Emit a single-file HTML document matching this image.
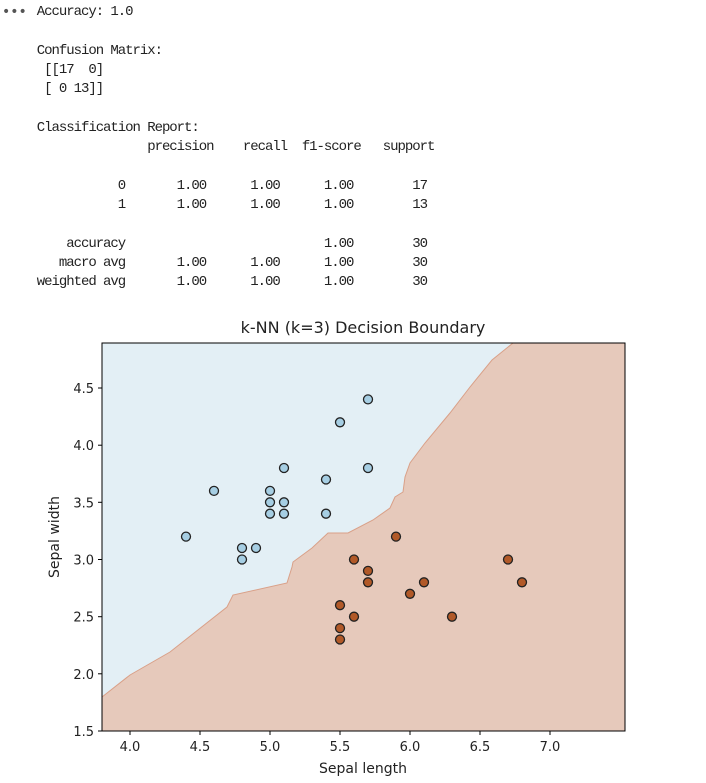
<!DOCTYPE html>
<html><head><style>
body{margin:0;background:#fff;width:706px;height:783px;overflow:hidden}
pre{position:absolute;left:0;top:3px;margin:0;font-family:"Liberation Mono",monospace;font-size:14px;letter-spacing:-1.04px;line-height:19.3px;color:#222}
</style></head><body>
<svg width="706" height="783" style="position:absolute;left:0;top:0" font-family="DejaVu Sans, Liberation Sans, sans-serif">
<text x="2" y="16" font-size="14" fill="#555">•••</text>
<rect x="102" y="343" width="523" height="388" fill="#e6c9bb"/>
<polygon fill="#e3eff5" stroke="#d9a088" stroke-width="1" points="102,343 513,343 492,360 470,387 450,413 425,443 410,463 405,477 403,492 395,497 390,508 373,520 348,533 328,533 312,548 293,562 292,567 287,583 233,595 227,607 170,652 130,675 102,697"/>
<rect x="102" y="343" width="523" height="388" fill="none" stroke="#000" stroke-width="1"/>
<g stroke="#000" stroke-width="1">
<line x1="130" y1="731" x2="130" y2="735"/><line x1="200" y1="731" x2="200" y2="735"/><line x1="270" y1="731" x2="270" y2="735"/><line x1="340" y1="731" x2="340" y2="735"/><line x1="410" y1="731" x2="410" y2="735"/><line x1="480" y1="731" x2="480" y2="735"/><line x1="550" y1="731" x2="550" y2="735"/>
<line x1="98" y1="731" x2="102" y2="731"/><line x1="98" y1="673.8" x2="102" y2="673.8"/><line x1="98" y1="616.7" x2="102" y2="616.7"/><line x1="98" y1="559.5" x2="102" y2="559.5"/><line x1="98" y1="502.3" x2="102" y2="502.3"/><line x1="98" y1="445.2" x2="102" y2="445.2"/><line x1="98" y1="388" x2="102" y2="388"/>
</g>
<g font-size="13" fill="#222" text-anchor="middle">
<text x="130" y="751">4.0</text><text x="200" y="751">4.5</text><text x="270" y="751">5.0</text><text x="340" y="751">5.5</text><text x="410" y="751">6.0</text><text x="480" y="751">6.5</text><text x="550" y="751">7.0</text>
</g>
<g font-size="13" fill="#222" text-anchor="end">
<text x="94" y="736">1.5</text><text x="94" y="678.8">2.0</text><text x="94" y="621.7">2.5</text><text x="94" y="564.5">3.0</text><text x="94" y="507.3">3.5</text><text x="94" y="450.2">4.0</text><text x="94" y="393">4.5</text>
</g>
<text x="363" y="333" font-size="16" text-anchor="middle" fill="#222">k-NN (k=3) Decision Boundary</text>
<text x="363" y="773" font-size="14" text-anchor="middle" fill="#222">Sepal length</text>
<text transform="translate(59,537) rotate(-90)" font-size="14" text-anchor="middle" fill="#222">Sepal width</text>
<g fill="#a6cee3" stroke="#222" stroke-width="1.3">
<circle cx="368" cy="399.4" r="4.5"/><circle cx="340" cy="422.3" r="4.5"/><circle cx="284" cy="468" r="4.5"/><circle cx="368" cy="468" r="4.5"/><circle cx="326" cy="479.5" r="4.5"/><circle cx="214" cy="490.9" r="4.5"/><circle cx="270" cy="490.9" r="4.5"/><circle cx="270" cy="502.3" r="4.5"/><circle cx="284" cy="502.3" r="4.5"/><circle cx="270" cy="513.7" r="4.5"/><circle cx="284" cy="513.7" r="4.5"/><circle cx="326" cy="513.7" r="4.5"/><circle cx="186" cy="536.6" r="4.5"/><circle cx="242" cy="548" r="4.5"/><circle cx="256" cy="548" r="4.5"/><circle cx="242" cy="559.5" r="4.5"/>
</g>
<g fill="#b15928" stroke="#222" stroke-width="1.3">
<circle cx="396" cy="536.6" r="4.5"/><circle cx="354" cy="559.5" r="4.5"/><circle cx="508" cy="559.5" r="4.5"/><circle cx="368" cy="570.9" r="4.5"/><circle cx="368" cy="582.3" r="4.5"/><circle cx="424" cy="582.3" r="4.5"/><circle cx="522" cy="582.3" r="4.5"/><circle cx="410" cy="593.8" r="4.5"/><circle cx="340" cy="605.2" r="4.5"/><circle cx="354" cy="616.7" r="4.5"/><circle cx="452" cy="616.7" r="4.5"/><circle cx="340" cy="628.1" r="4.5"/><circle cx="340" cy="639.5" r="4.5"/>
</g>
</svg>
<pre>     Accuracy: 1.0

     Confusion Matrix:
      [[17  0]
      [ 0 13]]

     Classification Report:
                    precision    recall  f1-score   support

                0       1.00      1.00      1.00        17
                1       1.00      1.00      1.00        13

         accuracy                           1.00        30
        macro avg       1.00      1.00      1.00        30
     weighted avg       1.00      1.00      1.00        30
</pre>
</body></html>
